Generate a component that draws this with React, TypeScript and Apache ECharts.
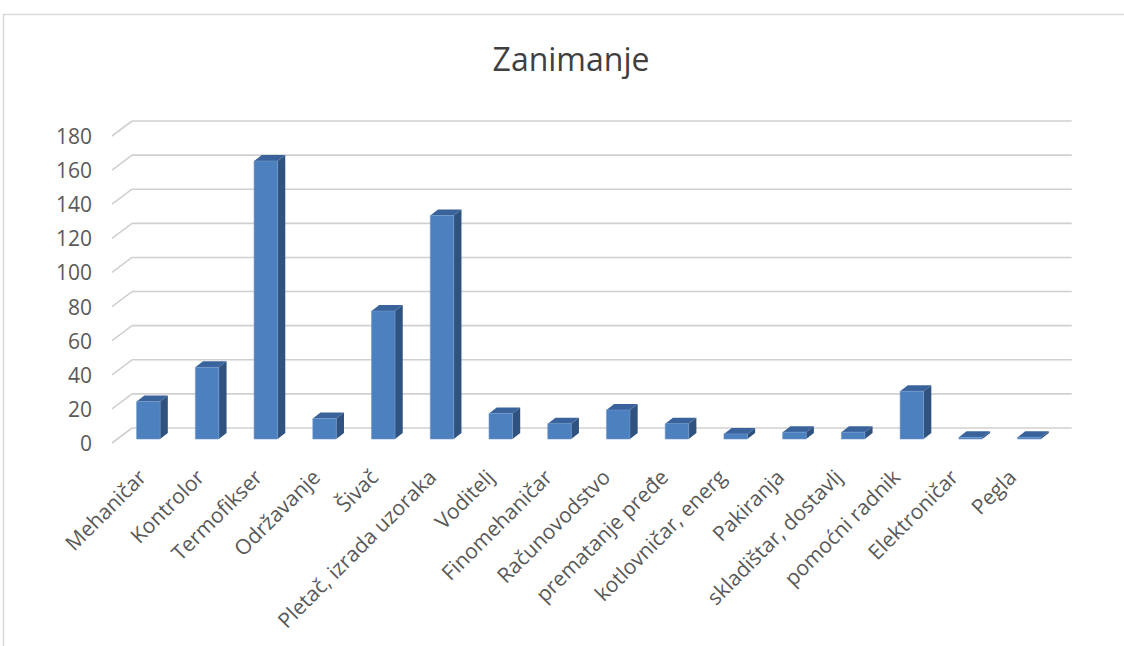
import React, { useEffect, useRef } from "react";
import * as echarts from "echarts";

const categories = [
  "Mehaničar",
  "Kontrolor",
  "Termofikser",
  "Održavanje",
  "Šivač",
  "Pletač, izrada uzoraka",
  "Voditelj",
  "Finomehaničar",
  "Računovodstvo",
  "prematanje pređe",
  "kotlovničar, energ",
  "Pakiranja",
  "skladištar, dostavlj",
  "pomoćni radnik",
  "Elektroničar",
  "Pegla",
];
const values = [22, 42, 163, 12, 75, 131, 15, 9, 17, 9, 3, 4, 4, 28, 1, 1];
const yTicks = [0, 20, 40, 60, 80, 100, 120, 140, 160, 180];
const titleText = "Zanimanje";

const FONT = "'Open Sans', 'Noto Sans', sans-serif";

export default function App() {
  const ref = useRef<HTMLDivElement>(null);
  useEffect(() => {
    if (!ref.current) return;
    const chart = echarts.init(ref.current, null, { renderer: "svg" });
    const DX = 20; // depth of the floor/wall
    const DY = -15;
    const option: any = {
      animation: false,
      backgroundColor: "#ffffff",
      graphic: [
        {
          type: "rect",
          shape: { x: 3.5, y: 14.5, width: 1200, height: 700 },
          style: { fill: "none", stroke: "#d9d9d9", lineWidth: 1.5 },
          silent: true,
        },
        {
          type: "text",
          x: 571,
          y: 58,
          style: {
            text: titleText,
            fontSize: 32,
            fontFamily: FONT,
            fill: "#404040",
            textAlign: "center",
            textVerticalAlign: "middle",
          },
        },
      ],
      grid: [
        { left: 112, right: 72.3, top: 136, bottom: 203 },
        { left: 113, right: 83, top: 136, bottom: 203 },
      ],
      xAxis: [
        { type: "category", data: categories, gridIndex: 0, show: false },
        {
          type: "category",
          data: categories,
          gridIndex: 1,
          axisLine: { show: false },
          axisTick: { show: false },
          axisLabel: {
            rotate: 45,
            margin: 30,
            interval: 0,
            fontSize: 21,
            fontFamily: FONT,
            color: "#595959",
          },
        },
      ],
      yAxis: [
        {
          type: "value",
          gridIndex: 0,
          min: 0,
          max: 180,
          interval: 20,
          axisLine: { show: false },
          axisTick: { show: false },
          splitLine: { show: false },
          axisLabel: {
            margin: 20,
            fontSize: 21,
            fontFamily: FONT,
            color: "#595959",
          },
        },
        { type: "value", gridIndex: 1, min: 0, max: 180, show: false },
      ],
      series: [
        {
          type: "custom",
          xAxisIndex: 0,
          yAxisIndex: 0,
          silent: true,
          clip: false,
          data: yTicks.map((t) => [0, t]),
          renderItem: (params: any, api: any) => {
            const v = api.value(1);
            const p = api.coord([0, v]);
            const half = api.size([1, 0])[0] / 2;
            const x0 = p[0] - half;
            const x1 = api.coord([categories.length - 1, v])[0] + half;
            const style = { stroke: "#d0d0d0", lineWidth: 1.6 };
            return {
              type: "group",
              children: [
                {
                  type: "line",
                  shape: { x1: x0, y1: p[1], x2: x0 + DX, y2: p[1] + DY },
                  style,
                },
                {
                  type: "line",
                  shape: { x1: x0 + DX, y1: p[1] + DY, x2: x1 + DX, y2: p[1] + DY },
                  style,
                },
              ],
            };
          },
        },
        {
          type: "custom",
          xAxisIndex: 0,
          yAxisIndex: 0,
          clip: false,
          data: values.map((v, i) => [i, v]),
          renderItem: (params: any, api: any) => {
            const i = api.value(0);
            const v = api.value(1);
            const top = api.coord([i, v]);
            const base = api.coord([i, 0]);
            const w = 23.5;
            const ox = 7;
            const oy = -4;
            const sx = 7.7;
            const sy = -6;
            const xl = top[0] + ox - w / 2;
            const xr = xl + w;
            const yt = top[1] + oy;
            const yb = base[1] + oy;
            return {
              type: "group",
              children: [
                {
                  type: "polygon",
                  shape: {
                    points: [
                      [xr, yt],
                      [xr + sx, yt + sy],
                      [xr + sx, yb + sy],
                      [xr, yb],
                    ],
                  },
                  style: { fill: "#30527f" },
                },
                {
                  type: "polygon",
                  shape: {
                    points: [
                      [xl, yt],
                      [xl + sx, yt + sy],
                      [xr + sx, yt + sy],
                      [xr, yt],
                    ],
                  },
                  style: { fill: "#3a639c" },
                },
                {
                  type: "rect",
                  shape: { x: xl, y: yt, width: w, height: yb - yt },
                  style: { fill: "#4c80be", stroke: "#6f98cc", lineWidth: 0.6 },
                },
              ],
            };
          },
        },
      ],
    };
    chart.setOption(option);
    return () => chart.dispose();
  }, []);
  return (
    <div
      ref={ref}
      style={{ position: "absolute", left: 0, top: 0, width: 1124, height: 646 }}
    />
  );
}
